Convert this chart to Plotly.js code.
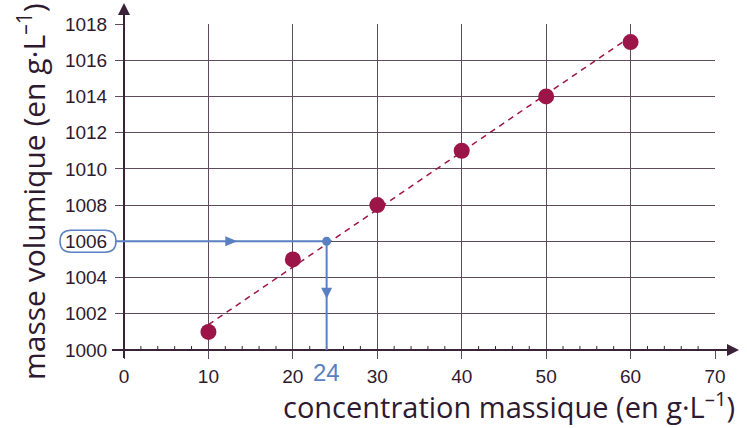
<!DOCTYPE html>
<html>
<head>
<meta charset="utf-8">
<script src="https://cdn.plot.ly/plotly-3.0.1.min.js"></script>
<style>html,body{margin:0;padding:0;background:#fff;}#chart{width:747px;height:428px;}</style>
</head>
<body>
<div id="chart"></div>
<script>
// ---- data ----
const concentration = [10, 20, 30, 40, 50, 60];
const masseVolumique = [1001, 1005, 1008, 1011, 1014, 1017];
const fitX = [10, 60];
const fitY = [1001.4, 1017.3];
const readConcentration = 24;
const readValue = 1006;
const xTicks = [0, 10, 20, 30, 40, 50, 60, 70];
const yTicks = [1000, 1002, 1004, 1006, 1008, 1010, 1012, 1014, 1016, 1018];
const xMinorTicks = [2,4,6,8,12,14,16,18,22,24,26,28,32,34,36,38,42,44,46,48,52,54,56,58,62,64,66,68];
const xTitle = 'concentration massique (en g·L<sup>–1</sup>)';
const yTitle = 'masse volumique (en g·L<sup>–1</sup>)';

// ---- style ----
const W = 747, H = 428;
const M = {l: 124, r: 32, t: 24, b: 78};
const PW = W - M.l - M.r, PH = H - M.t - M.b;
const px2paperX = p => (p - M.l) / PW;
const px2paperY = p => (H - M.b - p) / PH;
const ink = '#2e1a30';
const gridC = '#5e4b5c';
const axisC = '#3a2338';
const red = '#9c1548';
const blue = '#5b80c2';
const tickFont = {family: 'Liberation Sans, Arial, sans-serif', size: 19, color: ink};
const xTitleFont = {family: 'Open Sans, sans-serif', size: 29, color: ink};
const yTitleFont = {family: 'Open Sans, sans-serif', size: 30, color: ink};

const xMin = xTicks[0], xMax = xTicks[xTicks.length - 1];
const yMin = yTicks[0], yMax = yTicks[yTicks.length - 1];

const traces = [
  {x: fitX, y: fitY, mode: 'lines', line: {color: red, width: 1.5, dash: '6px,5px'}, hoverinfo: 'skip'},
  {x: concentration, y: masseVolumique, mode: 'markers', marker: {color: red, size: 16}},
  {x: [readConcentration], y: [readValue], mode: 'markers', marker: {color: blue, size: 9}}
];

const shapes = [];
// minor ticks on x axis
xMinorTicks.forEach(v => shapes.push({type: 'line', xref: 'x', yref: 'y', ysizemode: 'pixel', yanchor: yMin,
  x0: v, x1: v, y0: 4, y1: -5, line: {color: axisC, width: 1}}));
// x axis line + arrow
shapes.push({type: 'line', xref: 'paper', yref: 'paper', x0: px2paperX(112), x1: px2paperX(730), y0: 0, y1: 0,
  line: {color: axisC, width: 2}});
shapes.push({type: 'path', xref: 'paper', yref: 'paper', xsizemode: 'pixel', ysizemode: 'pixel',
  xanchor: px2paperX(727), yanchor: 0, path: 'M0,6 L12,0 L0,-6 Z', fillcolor: axisC, line: {width: 0}});
// y axis line + arrow
shapes.push({type: 'line', xref: 'paper', yref: 'paper', x0: 0, x1: 0, y0: px2paperY(358), y1: px2paperY(12),
  line: {color: axisC, width: 2}});
shapes.push({type: 'path', xref: 'paper', yref: 'paper', xsizemode: 'pixel', ysizemode: 'pixel',
  xanchor: 0, yanchor: px2paperY(15), path: 'M-6,0 L0,12 L6,0 Z', fillcolor: axisC, line: {width: 0}});
// blue reading lines
shapes.push({type: 'line', xref: 'paper', yref: 'y', x0: px2paperX(116), x1: readConcentration / (xMax - xMin),
  y0: readValue, y1: readValue, line: {color: blue, width: 2}});
shapes.push({type: 'line', xref: 'x', yref: 'y', x0: readConcentration, x1: readConcentration,
  y0: readValue, y1: yMin, line: {color: blue, width: 2}});
// arrowheads
shapes.push({type: 'path', xref: 'x', yref: 'y', xsizemode: 'pixel', ysizemode: 'pixel',
  xanchor: readConcentration / 2, yanchor: readValue, path: 'M0,5 L12,0 L0,-5 Z', fillcolor: blue, line: {width: 0}});
shapes.push({type: 'path', xref: 'x', yref: 'y', xsizemode: 'pixel', ysizemode: 'pixel',
  xanchor: readConcentration, yanchor: (readValue + yMin) / 2, path: 'M-5.5,8 L0,-3 L5.5,8 Z', fillcolor: blue, line: {width: 0}});
// rounded box around the read value label
shapes.push({type: 'path', xref: 'paper', yref: 'y', xsizemode: 'pixel', ysizemode: 'pixel',
  xanchor: 0, yanchor: readValue,
  path: 'M-53,11 L-19,11 Q-8,11 -8,0 Q-8,-11 -19,-11 L-53,-11 Q-64,-11 -64,0 Q-64,11 -53,11 Z',
  fillcolor: 'rgba(0,0,0,0)', line: {color: blue, width: 1.5}});

const annotations = [
  {x: readConcentration, y: yMin, xref: 'x', yref: 'y', text: String(readConcentration), showarrow: false,
   yanchor: 'top', yshift: -7, font: {family: 'Liberation Sans, Arial, sans-serif', size: 24, color: blue}},
  {x: px2paperX(737), y: px2paperY(428), xref: 'paper', yref: 'paper', xanchor: 'right', yanchor: 'bottom',
   text: xTitle, showarrow: false, font: xTitleFont},
  {x: px2paperX(32), y: px2paperY(192), xref: 'paper', yref: 'paper', xanchor: 'center', yanchor: 'middle',
   text: yTitle, textangle: -90, showarrow: false, font: yTitleFont}
];

const layout = {
  width: W, height: H, margin: M,
  paper_bgcolor: '#fff', plot_bgcolor: '#fff',
  showlegend: false,
  xaxis: {range: [xMin, xMax], tickvals: xTicks, ticktext: xTicks.map(String), showgrid: true,
    gridcolor: gridC, gridwidth: 1, ticks: 'outside', ticklen: 8, tickcolor: gridC, tickwidth: 1,
    zeroline: false, showline: false, tickfont: tickFont, ticklabelstandoff: 1, fixedrange: true},
  yaxis: {range: [yMin, yMax], tickvals: yTicks, ticktext: yTicks.map(String), showgrid: true,
    gridcolor: gridC, gridwidth: 1, ticks: 'outside', ticklen: 8, tickcolor: gridC, tickwidth: 1,
    zeroline: false, showline: false, tickfont: tickFont, ticklabelstandoff: 4, fixedrange: true},
  shapes: shapes,
  annotations: annotations
};

Plotly.newPlot('chart', traces, layout, {displayModeBar: false, staticPlot: true});
</script>
</body>
</html>
